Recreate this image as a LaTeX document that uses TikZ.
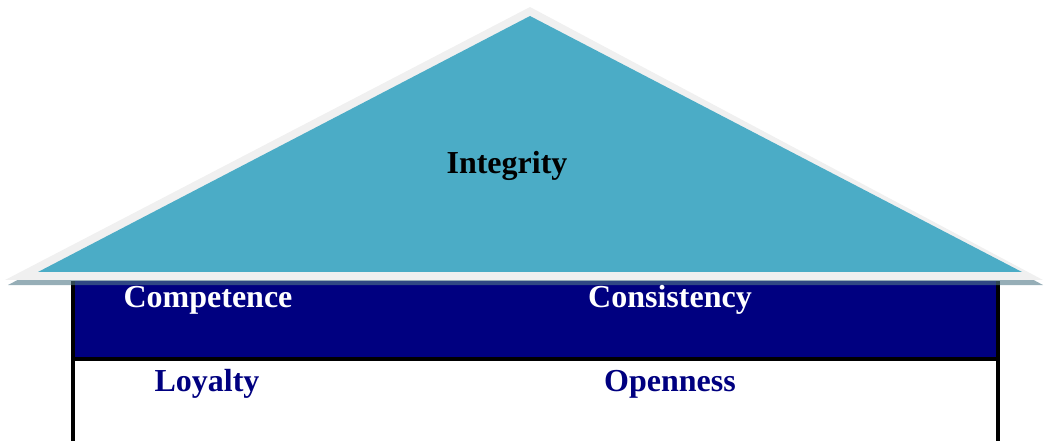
\documentclass[tikz,border=0pt]{standalone}
\usepackage{fontspec}
\setmainfont{Liberation Serif}
\usepackage{tkz-euclide}
\definecolor{roofteal}{RGB}{75,172,198}
\definecolor{roofedge}{RGB}{240,240,240}
\definecolor{roofshade}{RGB}{80,120,135}
\definecolor{beamnavy}{RGB}{0,0,128}
\tikzset{
  pillar/.style={font=\bfseries\fontsize{24}{28}\selectfont, inner sep=0pt, anchor=base},
}
\begin{document}
\begin{tikzpicture}[x=0.75pt,y=-0.75pt]
		\useasboundingbox (0,0) rectangle (1044,441);
		% walls
		\fill[black] (71,281) rectangle (1000,445);
		\fill[beamnavy] (75,281) rectangle (996,357);
		\fill[white] (75,361) rectangle (996,445);
		% roof
		\tkzDefPoints{530/12/S,8/285/T,1043/285/U}
		\tkzDrawPolygon[draw=none,fill=roofshade,fill opacity=0.6](S,T,U)
		\tkzDefPoints{530/7/A,5/280/B,1043/280/C}
		\tkzDrawPolygon[draw=none,fill=roofedge](A,B,C)
		\tkzDefPoints{530/16/D,38/272/E,1022/272/F}
		\tkzDrawPolygon[draw=none,fill=roofteal](D,E,F)
		% labels
		\node[pillar] (integrity) at (507,174) {Integrity};
		\node[pillar,text=white] (competence) at (208,307) {Competence};
		\node[pillar,text=white] (consistency) at (670,307) {Consistency};
		\node[pillar,text=beamnavy] (loyalty) at (207,391) {Loyalty};
		\node[pillar,text=beamnavy] (openness) at (670,391) {Openness};
		\end{tikzpicture}
\end{document}
